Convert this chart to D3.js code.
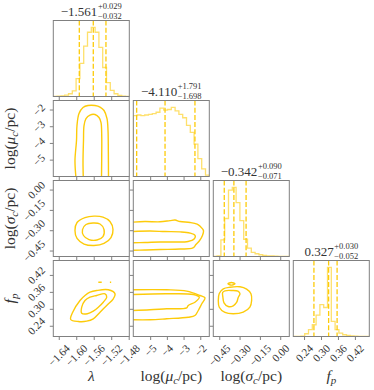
<!DOCTYPE html>
<meta charset="utf-8">
<style>body{margin:0;background:#fff}</style>
<svg id="chart" width="374" height="390"></svg>
<script src="https://cdn.jsdelivr.net/npm/d3@7"></script>
<script>

// parameter axes
var paramRanges = [[-1.6525, -1.4786], [-6.01, -1.46], [-0.494, 0.067], [0.202, 0.471]];
var lambdaTicks = [-1.64, -1.60, -1.56, -1.52, -1.48];
var muTicks = [-5, -4, -3, -2];
var sigmaTicks = [-0.45, -0.30, -0.15, 0.00];
var fpTicks = [0.24, 0.30, 0.36, 0.42];
var tickFormats = [".2f", ".0f", ".2f", ".2f"];

// quantiles (16, 50, 84)
var medians = [-1.561, -4.110, -0.342, 0.327];
var plusErr = [0.029, 1.791, 0.090, 0.030];
var minusErr = [0.032, 1.698, 0.071, 0.052];

// 1d histograms, 20 bins over the axis range
var histLambda = [0, 0.5, 1, 2, 4, 8, 26, 48, 73, 93, 100, 93, 71, 42, 20, 9, 4, 1.5, 0.5, 0];
var histMu = [88, 89, 88, 89, 90, 91, 93, 99, 96, 97, 100, 95, 90, 85, 74, 64, 47, 26, 11, 2];
var histSigma = [0, 1, 24, 55, 96, 100, 78, 52, 25, 12, 6, 4, 2.5, 1.5, 1, 0.7, 0.5, 0.3, 0.2, 0.1];
var histFp = [0, 0, 0.5, 4, 10, 17, 31, 46, 42, 100, 22, 10, 5, 2.5, 1.5, 1, 0.5, 0.3, 0.2, 0];

// 2d contour lines (x, y in parameter units)
var lamMuOuter = [[-1.6006,-6.1],[-1.6029,-5.05],[-1.5994,-3.85],[-1.5983,-2.96],[-1.5937,-2.24],[-1.5845,-1.88],[-1.5731,-1.76],[-1.5571,-1.76],[-1.5456,-1.85],[-1.5364,-2.06],[-1.5296,-2.54],[-1.5273,-3.26],[-1.5266,-4.45],[-1.5262,-6.1]];
var lamMuInner = [[-1.5839,-6.1],[-1.5845,-5.05],[-1.5834,-3.85],[-1.5822,-2.96],[-1.5777,-2.54],[-1.5685,-2.33],[-1.5571,-2.30],[-1.5479,-2.48],[-1.5433,-2.78],[-1.5417,-3.55],[-1.5417,-4.75],[-1.5422,-6.1]];
var lamSigOuter = [[-1.5594,-0.196],[-1.5388,-0.203],[-1.5228,-0.236],[-1.5159,-0.295],[-1.5205,-0.354],[-1.5365,-0.398],[-1.5594,-0.413],[-1.5822,-0.402],[-1.5982,-0.361],[-1.6029,-0.302],[-1.5982,-0.243],[-1.5800,-0.207]];
var lamSigInner = [[-1.5617,-0.247],[-1.5456,-0.254],[-1.5365,-0.295],[-1.5388,-0.347],[-1.5525,-0.372],[-1.5708,-0.369],[-1.5834,-0.339],[-1.5857,-0.295],[-1.5777,-0.258]];
var lamFpOuter = [[-1.6127,0.2622],[-1.6081,0.288],[-1.5914,0.3294],[-1.58,0.3471],[-1.5685,0.3588],[-1.5532,0.3648],[-1.5266,0.3673],[-1.5113,0.3532],[-1.5152,0.3355],[-1.5303,0.3117],[-1.5456,0.288],[-1.561,0.2647],[-1.5761,0.2562],[-1.5953,0.2551]];
var lamFpInner = [[-1.5875,0.2845],[-1.5875,0.3057],[-1.58,0.3294],[-1.5685,0.3411],[-1.5532,0.3471],[-1.5342,0.3532],[-1.5303,0.3411],[-1.5381,0.3234],[-1.5495,0.3057],[-1.561,0.2916],[-1.5747,0.2824]];
var lamFpIslandA = [[-1.5495,0.3942],[-1.5417,0.3942]];
var lamFpIslandB = [[-1.5230,0.3942],[-1.5201,0.3942]];
var muSigOuter = [[-6.1,-0.241],[-5.31,-0.236],[-4.41,-0.238],[-3.81,-0.229],[-3.51,-0.225],[-3.21,-0.236],[-2.61,-0.243],[-2.19,-0.255],[-1.99,-0.273],[-1.81,-0.302],[-1.87,-0.339],[-2.04,-0.376],[-2.26,-0.406],[-2.44,-0.431],[-3.21,-0.439],[-4.41,-0.442],[-5.31,-0.446],[-6.1,-0.448]];
var muSigInner = [[-6.1,-0.310],[-5.01,-0.306],[-4.11,-0.310],[-3.21,-0.312],[-2.61,-0.321],[-2.31,-0.339],[-2.37,-0.365],[-2.73,-0.383],[-3.51,-0.387],[-4.41,-0.387],[-5.31,-0.391],[-6.1,-0.393]];
var muFpOuter = [[-6.1,0.3673],[-4.01,0.3673],[-2.81,0.3624],[-2.02,0.3471],[-1.72,0.339],[-1.91,0.3178],[-2.12,0.294],[-2.32,0.2763],[-2.72,0.2703],[-4.01,0.2647],[-5.01,0.2611],[-6.1,0.2611]];
var muFpInner = [[-6.1,0.3507],[-4.01,0.3532],[-2.42,0.3507],[-2.06,0.3411],[-2.32,0.3234],[-2.72,0.3117],[-2.81,0.3036],[-4.01,0.3001],[-5.01,0.2965],[-6.1,0.294]];
var sigFpOuter = [[-0.371,0.3765],[-0.297,0.3779],[-0.248,0.3694],[-0.216,0.3532],[-0.211,0.3294],[-0.224,0.3057],[-0.273,0.288],[-0.347,0.2824],[-0.408,0.287],[-0.450,0.3057],[-0.457,0.3294],[-0.450,0.3542],[-0.420,0.3708]];
var sigFpInner = [[-0.408,0.3638],[-0.356,0.3648],[-0.312,0.3624],[-0.297,0.3532],[-0.310,0.3401],[-0.322,0.3224],[-0.347,0.3107],[-0.384,0.3082],[-0.415,0.3213],[-0.423,0.3401],[-0.425,0.3578]];
var sigFpIsland = [[-0.386,0.3885],[-0.360,0.3932],[-0.334,0.3885],[-0.360,0.384]];

var svg = d3.select("#chart");
var left0 = 53.3, top0 = 20.5, size = 76, step = 80;
var gold = "#fdcb0a";
var frameColor = "#808080";
var textColor = "#333";
var font = "'Liberation Serif', 'DejaVu Serif', serif";
var tickLen = 3.5, tickPad = 3, tickFont = 11;

var ticks = [lambdaTicks, muTicks, sigmaTicks, fpTicks];
var hists = [histLambda, histMu, histSigma, histFp];

var xs = paramRanges.map(function(r, i){
	return d3.scaleLinear().domain(r).range([left0 + i*step, left0 + i*step + size]);
});
var ys = paramRanges.map(function(r, j){
	return d3.scaleLinear().domain(r).range([top0 + j*step + size, top0 + j*step]);
});

var defs = svg.append("defs");
for (var row = 0; row < 4; row++) {
	for (var col = 0; col <= row; col++) {
		defs.append("clipPath").attr("id", "clip" + row + col)
			.append("rect")
			.attr("x", left0 + col*step).attr("y", top0 + row*step)
			.attr("width", size).attr("height", size);
	}
}

// histograms on the diagonal
hists.forEach(function(h, i){
	var x = xs[i];
	var r = paramRanges[i];
	var y = d3.scaleLinear().domain([0, 1.1*d3.max(h)]).range([top0 + i*step + size, top0 + i*step]);
	var binX = d3.scaleLinear().domain([0, h.length]).range(r);
	var pts = [[binX(0), 0]];
	h.forEach(function(v, k){
		pts.push([binX(k), v]);
		pts.push([binX(k+1), v]);
	});
	pts.push([binX(h.length), 0]);

	var g = svg.append("g").attr("clip-path", "url(#clip" + i + i + ")");
	g.append("path")
		.attr("d", d3.line().x(function(d){ return x(d[0]); }).y(function(d){ return y(d[1]); })(pts))
		.attr("fill", "none")
		.attr("stroke", gold)
		.attr("stroke-opacity", 0.6)
		.attr("stroke-width", 1.3);

	[medians[i] - minusErr[i], medians[i], medians[i] + plusErr[i]].forEach(function(q){
		g.append("line")
			.attr("x1", x(q)).attr("x2", x(q))
			.attr("y1", top0 + i*step).attr("y2", top0 + i*step + size)
			.attr("stroke", gold)
			.attr("stroke-width", 1.3)
			.attr("stroke-dasharray", "5,2.2");
	});
});

// contours
var contours = [
	[1, 0, lamMuOuter, false], [1, 0, lamMuInner, false],
	[2, 0, lamSigOuter, true], [2, 0, lamSigInner, true],
	[3, 0, lamFpOuter, true], [3, 0, lamFpInner, true],
	[3, 0, lamFpIslandA, false], [3, 0, lamFpIslandB, false],
	[2, 1, muSigOuter, false], [2, 1, muSigInner, false],
	[3, 1, muFpOuter, false], [3, 1, muFpInner, false],
	[3, 2, sigFpOuter, true], [3, 2, sigFpInner, true], [3, 2, sigFpIsland, true]
];

contours.forEach(function(c){
	var x = xs[c[1]], y = ys[c[0]];
	var line = d3.line()
		.x(function(d){ return x(d[0]); })
		.y(function(d){ return y(d[1]); })
		.curve(c[3] ? d3.curveCatmullRomClosed : d3.curveCatmullRom);
	svg.append("path")
		.attr("clip-path", "url(#clip" + c[0] + c[1] + ")")
		.attr("d", line(c[2]))
		.attr("fill", "none")
		.attr("stroke", gold)
		.attr("stroke-width", 1.4);
});

// axes, ticks and frames
function rotLabels(sel, isX){
	sel.selectAll("text").each(function(){
		var t = d3.select(this);
		t.attr("x", 0).attr("y", 0).attr("dy", "0.32em")
			.attr("text-anchor", "middle")
			.attr("font-size", tickFont)
			.attr("font-family", font)
			.attr("fill", textColor);
		var w = this.getComputedTextLength();
		var off = (w + tickFont*0.9) * 0.354;
		if (isX)
			t.attr("transform", "translate(0," + (tickLen + tickPad + off) + ") rotate(-45)");
		else
			t.attr("transform", "translate(" + (-(tickLen + tickPad + off)) + ",0) rotate(-45)");
	});
}

for (var row = 0; row < 4; row++) {
	for (var col = 0; col <= row; col++) {
		var fx = d3.format(tickFormats[col]);
		var ax = svg.append("g")
			.attr("transform", "translate(0," + (top0 + row*step + size) + ")")
			.call(d3.axisBottom(xs[col]).tickValues(ticks[col]).tickSize(tickLen)
				.tickFormat(row == 3 ? fx : function(){ return ""; }));
		ax.select(".domain").remove();
		ax.selectAll("line").attr("stroke", frameColor);
		if (row == 3) rotLabels(ax, true);

		if (row != col) {
			var fy = d3.format(tickFormats[row]);
			var ay = svg.append("g")
				.attr("transform", "translate(" + (left0 + col*step) + ",0)")
				.call(d3.axisLeft(ys[row]).tickValues(ticks[row]).tickSize(tickLen)
					.tickFormat(col == 0 ? fy : function(){ return ""; }));
			ay.select(".domain").remove();
			ay.selectAll("line").attr("stroke", frameColor);
			if (col == 0) rotLabels(ay, false);
		}

		svg.append("rect")
			.attr("x", left0 + col*step).attr("y", top0 + row*step)
			.attr("width", size).attr("height", size)
			.attr("fill", "none")
			.attr("stroke", frameColor)
			.attr("stroke-width", 1);
	}
}

// titles above the histograms
var f3 = d3.format(".3f");
medians.forEach(function(m, i){
	var g = svg.append("g").attr("font-family", font).attr("fill", textColor);
	var main = g.append("text").attr("font-size", 13).text(f3(m));
	var mw = main.node().getComputedTextLength() + 0.5;
	var sup = g.append("text").attr("font-size", 8.5).attr("x", mw).attr("y", -7.5).text("+" + f3(plusErr[i]));
	var sub = g.append("text").attr("font-size", 8.5).attr("x", mw).attr("y", 2.5).text("\u2212" + f3(minusErr[i]));
	var w = mw + Math.max(sup.node().getComputedTextLength(), sub.node().getComputedTextLength());
	g.attr("transform", "translate(" + (left0 + i*step + size/2 - w/2) + "," + (top0 + i*step - 4.5) + ")");
});

// axis labels
function addLabel(t, i){
	if (i == 0) {
		t.append("tspan").attr("font-style", "italic").text("\u03bb");
	} else if (i == 1 || i == 2) {
		t.append("tspan").text("log(");
		t.append("tspan").attr("font-style", "italic").text(i == 1 ? "\u03bc" : "\u03c3");
		t.append("tspan").attr("font-style", "italic").attr("font-size", 11).attr("dy", 3).text("c");
		t.append("tspan").attr("dy", -3).text("/pc)");
	} else {
		t.append("tspan").attr("font-style", "italic").text("f");
		t.append("tspan").attr("font-style", "italic").attr("font-size", 11).attr("dy", 3).text("p");
	}
}

for (var i = 0; i < 4; i++) {
	var tx = svg.append("text")
		.attr("x", left0 + i*step + size/2).attr("y", 381)
		.attr("text-anchor", "middle")
		.attr("font-family", font).attr("font-size", 15.5).attr("fill", textColor);
	addLabel(tx, i);
	if (i > 0) {
		var ty = svg.append("text")
			.attr("transform", "translate(15," + (top0 + i*step + size/2) + ") rotate(-90)")
			.attr("text-anchor", "middle")
			.attr("font-family", font).attr("font-size", 15.5).attr("fill", textColor);
		addLabel(ty, i);
	}
}

</script>
